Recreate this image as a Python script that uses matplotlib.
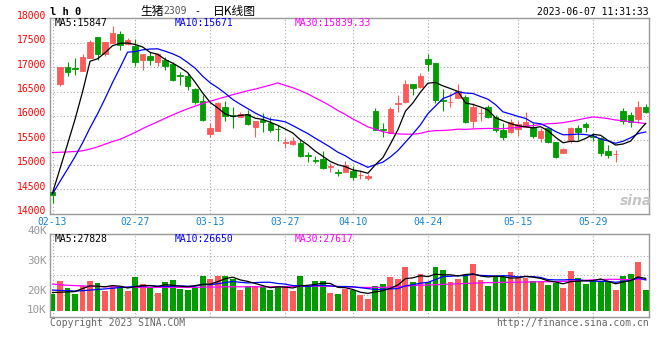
import matplotlib
matplotlib.use("Agg")
import matplotlib.pyplot as plt
import matplotlib.transforms as mtransforms
import numpy as np

# LH2309 daily candles, 80 sessions
date_labels = ["02-13", "02-27", "03-13", "03-27", "04-10", "04-24", "05-15", "05-29"]
date_pos = [0, 11, 21, 31, 40, 50, 62, 72]

opens = [14450, 16660, 17000, 16990, 16915, 17190, 17610, 17262, 17495, 17683,
         17466, 17430, 17139, 17228, 17105, 17150, 17070, 16830, 16813, 16560,
         16300, 15630, 15700, 16180, 16010, 15985, 16040, 15780, 15910, 15850,
         15730, 15450, 15425, 15445, 15195, 15090, 15120, 14960, 14845, 14860,
         14880, 14790, 14726, 16100, 15730, 15645, 16250, 16276, 16650, 16582,
         17160, 17078, 16320, 16285, 16371, 16385, 15900, 16050, 16174, 15984,
         15712, 15678, 15725, 15780, 15780, 15555, 15746, 15467, 15250, 15488,
         15746, 15834, 15580, 15542, 15283, 15215, 16100, 16018, 15936, 16174]
highs = [14520, 17000, 17110, 17180, 17260, 17550, 17620, 17520, 17850, 17750,
         17595, 17570, 17270, 17300, 17290, 17200, 17100, 16898, 16870, 16580,
         16430, 15850, 16280, 16300, 16175, 16085, 16120, 15900, 16065, 15985,
         15815, 15540, 15575, 15510, 15255, 15170, 15285, 15030, 14915, 15080,
         14965, 14895, 14810, 16155, 15850, 16190, 16425, 16730, 16660, 16880,
         17262, 17078, 16550, 16460, 16645, 16425, 16255, 16155, 16220, 16020,
         15850, 15935, 15895, 16085, 15850, 15745, 15780, 15470, 15350, 15780,
         15815, 15870, 15645, 15575, 15405, 15305, 16165, 16085, 16305, 16235]
lows = [14220, 16610, 16810, 16830, 16910, 17180, 17150, 17220, 17490, 17360,
        17460, 17020, 16950, 17050, 17030, 16935, 16720, 16630, 16530, 16235,
        15900, 15575, 15690, 15895, 15760, 15980, 15815, 15575, 15680, 15680,
        15490, 15340, 15405, 15165, 15050, 15030, 14910, 14860, 14760, 14860,
        14680, 14710, 14690, 15710, 15575, 15640, 16085, 16255, 16425, 16580,
        16920, 16255, 16100, 16190, 16360, 15860, 15745, 15895, 15960, 15680,
        15510, 15645, 15595, 15775, 15555, 15455, 15440, 15135, 15235, 15440,
        15510, 15680, 15490, 15170, 15135, 15065, 15830, 15780, 15850, 16050]
closes = [14380, 17000, 16900, 16970, 17214, 17510, 17260, 17514, 17697, 17452,
          17548, 17105, 17262, 17140, 17262, 17017, 16730, 16810, 16616, 16276,
          15915, 15760, 16255, 16000, 15995, 16038, 15835, 15895, 15870, 15710,
          15725, 15455, 15495, 15170, 15185, 15080, 14930, 14965, 14840, 14985,
          14745, 14795, 14760, 15710, 15715, 16140, 16256, 16663, 16562, 16813,
          17058, 16330, 16310, 16290, 16514, 15880, 16174, 16055, 15984, 15712,
          15576, 15882, 15835, 15882, 15596, 15698, 15460, 15168, 15324, 15746,
          15678, 15780, 15575, 15236, 15201, 15220, 15895, 15868, 16181, 16086]

ma5 = [14420, 14920, 15420, 15930, 16493, 17119, 17171, 17294, 17439, 17487,
       17494, 17463, 17413, 17301, 17263, 17157, 17082, 16992, 16887, 16690,
       16469, 16275, 16164, 16041, 15985, 16010, 16025, 15953, 15927, 15870,
       15807, 15731, 15651, 15511, 15406, 15277, 15172, 15066, 15000, 14960,
       14893, 14866, 14825, 14999, 15145, 15424, 15716, 16097, 16267, 16487,
       16670, 16685, 16615, 16560, 16500, 16265, 16234, 16183, 16121, 15961,
       15900, 15842, 15798, 15777, 15754, 15779, 15694, 15561, 15449, 15479,
       15475, 15539, 15621, 15603, 15494, 15402, 15425, 15484, 15673, 15847]
ma10 = [14398, 14658, 14908, 15165, 15446, 15757, 16043, 16355, 16685, 16990,
        17306, 17317, 17353, 17370, 17375, 17326, 17273, 17202, 17094, 16977,
        16813, 16679, 16578, 16464, 16337, 16240, 16150, 16059, 15984, 15927,
        15908, 15878, 15802, 15719, 15638, 15542, 15452, 15359, 15256, 15183,
        15085, 15019, 14946, 15000, 15053, 15159, 15291, 15461, 15633, 15816,
        16047, 16201, 16356, 16414, 16494, 16468, 16459, 16399, 16341, 16231,
        16083, 16038, 15990, 15949, 15858, 15839, 15768, 15679, 15613, 15617,
        15627, 15617, 15591, 15526, 15487, 15439, 15482, 15552, 15638, 15671]
ma30 = [15250, 15255, 15262, 15270, 15285, 15320, 15365, 15420, 15475, 15520,
        15590, 15660, 15740, 15810, 15880, 15950, 16020, 16085, 16145, 16200,
        16255, 16300, 16345, 16390, 16435, 16475, 16515, 16550, 16590, 16631,
        16676, 16625, 16578, 16518, 16450, 16369, 16291, 16206, 16111, 16029,
        15936, 15859, 15775, 15727, 15676, 15647, 15631, 15626, 15624, 15642,
        15680, 15699, 15701, 15711, 15728, 15723, 15734, 15739, 15743, 15743,
        15738, 15752, 15764, 15788, 15801, 15822, 15840, 15846, 15862, 15888,
        15919, 15952, 15979, 15963, 15946, 15915, 15903, 15877, 15864, 15839]

# volume in thousands (as read against the panel labels)
volume = [19.0, 23.3, 21.0, 19.0, 21.7, 23.3, 22.8, 20.0, 21.2, 20.9,
          20.0, 24.8, 22.3, 21.1, 19.3, 23.0, 23.7, 20.8, 20.3, 21.1,
          25.1, 24.0, 25.1, 25.1, 23.9, 20.3, 21.7, 21.7, 21.2, 20.4,
          21.8, 21.4, 20.0, 25.1, 21.2, 23.3, 23.3, 19.4, 19.0, 20.7,
          20.3, 18.7, 17.3, 21.7, 22.3, 24.7, 24.0, 28.0, 23.0, 25.8,
          23.0, 28.0, 27.0, 23.0, 24.0, 25.3, 29.0, 23.7, 21.7, 25.0,
          24.7, 26.3, 24.4, 24.2, 23.3, 23.0, 22.0, 22.6, 21.0, 26.7,
          24.3, 22.4, 23.2, 23.4, 22.9, 20.3, 25.0, 25.7, 29.7, 20.3]
vol_ma5 = [19.5, 19.6, 19.7, 19.8, 20.8, 21.7, 21.6, 21.4, 21.8, 21.6,
           21.0, 21.4, 21.8, 21.8, 21.5, 22.1, 21.9, 21.6, 21.4, 21.8,
           22.2, 22.3, 23.1, 24.1, 24.6, 23.7, 23.2, 22.5, 21.8, 21.1,
           21.4, 21.3, 21.0, 21.7, 21.9, 22.2, 22.6, 22.5, 21.2, 21.1,
           20.5, 19.6, 19.2, 19.7, 20.1, 20.9, 22.0, 24.1, 24.4, 25.1,
           24.8, 25.6, 25.4, 25.4, 25.0, 25.5, 25.7, 25.0, 24.7, 24.9,
           24.8, 24.3, 24.4, 24.9, 24.6, 24.2, 23.4, 23.0, 22.4, 23.1,
           23.3, 23.4, 23.5, 24.0, 23.2, 22.4, 23.0, 23.5, 24.7, 24.2]
vol_ma10 = [20.3, 20.2, 20.1, 20.0, 20.1, 20.3, 20.5, 20.7, 20.9, 21.2,
            21.3, 21.5, 21.6, 21.8, 21.6, 21.5, 21.6, 21.7, 21.6, 21.6,
            22.2, 22.1, 22.4, 22.8, 23.2, 22.9, 22.7, 22.8, 22.9, 22.9,
            22.5, 22.3, 21.8, 21.8, 21.5, 21.8, 21.9, 21.7, 21.5, 21.5,
            21.4, 21.1, 20.8, 20.5, 20.6, 20.7, 20.8, 21.7, 22.1, 22.6,
            22.9, 23.8, 24.8, 24.9, 25.1, 25.1, 25.6, 25.2, 25.1, 25.0,
            25.1, 25.0, 24.7, 24.8, 24.8, 24.5, 23.8, 23.7, 23.7, 23.8,
            23.8, 23.4, 23.3, 23.2, 23.2, 22.9, 23.2, 23.5, 24.4, 23.7]
vol_ma30 = [22.3, 22.1, 21.9, 21.8, 21.7, 21.6, 21.5, 21.4, 21.4, 21.3,
            21.2, 21.2, 21.2, 21.2, 21.2, 21.2, 21.2, 21.2, 21.2, 21.2,
            21.3, 21.3, 21.3, 21.4, 21.4, 21.4, 21.4, 21.4, 21.4, 21.4,
            21.4, 21.5, 21.5, 21.5, 21.6, 21.6, 21.6, 21.6, 21.5, 21.4,
            21.3, 21.2, 21.2, 21.2, 21.2, 21.3, 21.4, 21.6, 21.8, 21.9,
            22.0, 22.1, 22.2, 22.3, 22.4, 22.5, 22.6, 22.7, 22.8, 22.8,
            22.9, 22.9, 22.9, 23.0, 23.0, 23.1, 23.1, 23.1, 23.2, 23.3,
            23.4, 23.6, 23.7, 23.8, 23.9, 23.9, 23.8, 23.8, 23.9, 23.8]

price_ticks = list(range(14000, 18001, 500))
vol_labels = ["40K", "30K", "20K", "10K"]
vol_label_pos = [40, 30, 20, 13.7]   # where the site prints them
vol_grid = [31.8, 25.3, 18.7]
vol_base = 13.3

RED = "#ff5a5a"
GREEN = "#009c00"
GRID = "#aaaaaa"
FRAME = "#999999"
MONO = "DejaVu Sans Mono"

W, H = 660, 360
fig = plt.figure(figsize=(W / 100, H / 100), dpi=100)


def fx(x):
    return x / W


def fy(y):
    return 1 - y / H


ax = fig.add_axes([fx(50), fy(213.5), (649.3 - 50) / W, (213.5 - 18.3) / H])
axv = fig.add_axes([fx(50), fy(317.3), (649.3 - 50) / W, (317.3 - 234.3) / H])

o = np.array(opens)
c = np.array(closes)
x = np.arange(len(c))
colors = np.where(c >= o, RED, GREEN)

# grid first
for p in price_ticks[1:-1]:
    ax.axhline(p, color=GRID, lw=0.8, ls=(0, (1, 2)), zorder=0)
for d in date_pos:
    ax.axvline(d, color=GRID, lw=0.8, ls=(0, (1, 2)), zorder=0)
    axv.axvline(d, color=GRID, lw=0.8, ls=(0, (1, 2)), zorder=0)
for g in vol_grid:
    axv.axhline(g, color=GRID, lw=0.8, ls=(0, (1, 2)), zorder=0)

# candles
ax.vlines(x, lows, highs, colors=colors, lw=0.8, zorder=2)
ax.bar(x, np.abs(c - o), bottom=np.minimum(o, c), width=0.72,
       color=colors, edgecolor=colors, lw=0.6, zorder=3)
ax.plot(x, ma30, color="#ff00ff", lw=0.9, zorder=4)
ax.plot(x, ma10, color="#0000ff", lw=0.9, zorder=4)
ax.plot(x, ma5, color="black", lw=0.9, zorder=5)

# volume
vol = np.array(volume)
axv.bar(x, vol - vol_base, bottom=vol_base, width=0.78, color=colors, lw=0, zorder=2)
axv.plot(x, vol_ma30, color="#ff00ff", lw=0.9, zorder=4)
axv.plot(x, vol_ma10, color="#0000ff", lw=0.9, zorder=4)
axv.plot(x, vol_ma5, color="black", lw=0.9, zorder=5)

for a in (ax, axv):
    a.set_xlim(-0.333, 79.48)
    a.set_xticks([])
    a.set_yticks([])
    for s in a.spines.values():
        s.set_color(FRAME)
        s.set_linewidth(1)
ax.set_ylim(14000, 18000)
axv.set_ylim(11.23, 38.9)

# price labels
tr = mtransforms.blended_transform_factory(ax.transAxes, ax.transData)
tr = mtransforms.offset_copy(tr, fig=fig, x=-3.5, y=2.5, units="dots")
for p in price_ticks:
    ax.text(0, p, str(p), transform=tr, ha="right", va="center",
            color="red", fontsize=7, family=MONO)

# date labels
tr = mtransforms.blended_transform_factory(ax.transData, ax.transAxes)
tr = mtransforms.offset_copy(tr, fig=fig, y=-8.5, units="dots")
for d, lab in zip(date_pos, date_labels):
    ax.text(d, 0, lab, transform=tr, ha="center", va="center",
            color="#1784d6", fontsize=7, family=MONO)

# volume labels
tr = mtransforms.blended_transform_factory(axv.transAxes, axv.transData)
tr = mtransforms.offset_copy(tr, fig=fig, x=-3.5, units="dots")
for v, lab in zip(vol_label_pos, vol_labels):
    axv.text(0, v, lab, transform=tr, ha="right", va="center",
             color="#999999", fontsize=7.8, family=MONO)

# header
fig.text(fx(50.5), fy(15), "l h 0", fontsize=7.5, fontweight="bold",
         family=MONO, va="baseline")
fig.text(fx(140), fy(14.5), "生猪", fontsize=8.5, family="Noto Sans CJK SC", va="baseline")
fig.text(fx(163), fy(14.5), "2309", fontsize=7, family=MONO, color="#555555", va="baseline")
fig.text(fx(194), fy(14.5), "-", fontsize=7, family=MONO, va="baseline")
fig.text(fx(213), fy(14.5), "日K线图", fontsize=8.5, family="Noto Sans CJK SC", va="baseline")
fig.text(fx(649), fy(15), "2023-06-07 11:31:33", fontsize=7, family=MONO,
         ha="right", va="baseline")

fig.text(fx(55), fy(26.5), "MA5:15847", fontsize=7, family=MONO, va="baseline")
fig.text(fx(175), fy(26.5), "MA10:15671", fontsize=7, family=MONO, color="#0000ff", va="baseline")
fig.text(fx(295), fy(26.5), "MA30:15839.33", fontsize=7, family=MONO, color="#ff00ff", va="baseline")

fig.text(fx(55), fy(241.5), "MA5:27828", fontsize=7, family=MONO, va="baseline")
fig.text(fx(175), fy(241.5), "MA10:26650", fontsize=7, family=MONO, color="#0000ff", va="baseline")
fig.text(fx(295), fy(241.5), "MA30:27617", fontsize=7, family=MONO, color="#ff00ff", va="baseline")

fig.text(fx(50), fy(326), "Copyright 2023 SINA.COM", fontsize=7, family=MONO,
         color="#666666", va="baseline")
fig.text(fx(649.3), fy(326), "http://finance.sina.com.cn", fontsize=7, family=MONO,
         color="#666666", ha="right", va="baseline")

# faint watermark
fig.text(fx(636), fy(205), "sina", fontsize=10, fontweight="bold", style="italic",
         color="#c4c4c4", ha="center", va="baseline")

fig.savefig("out.png", dpi=100)
